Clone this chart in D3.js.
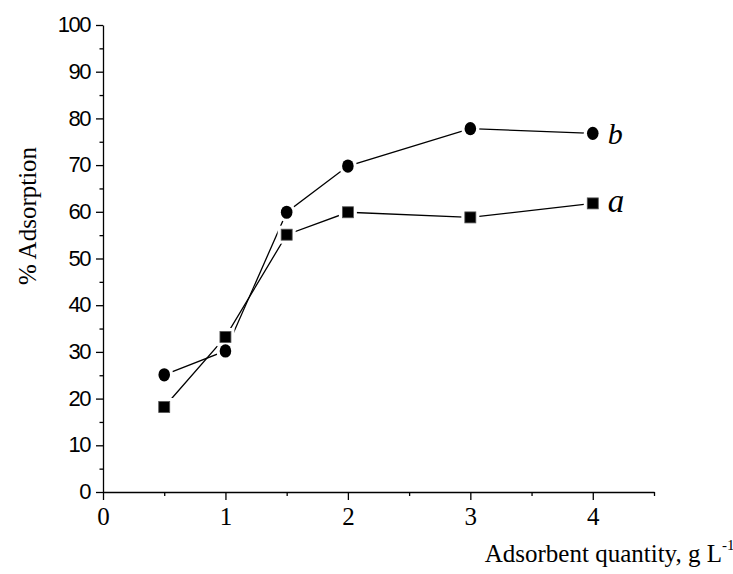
<!DOCTYPE html>
<html>
<head>
<meta charset="utf-8">
<script src="https://cdn.jsdelivr.net/npm/d3@7"></script>
<style>
  body { margin: 0; background: #fff; }
  svg { display: block; }
</style>
</head>
<body>
<svg id="chart" width="733" height="574"></svg>
<script>
// adsorbent dose (g/L) and % adsorption for the two curves
const doses = [0.5, 1, 1.5, 2, 3, 4];
const seriesA = [18.2, 33.2, 55.1, 59.9, 58.8, 61.8];
const seriesB = [25.1, 30.2, 59.9, 69.8, 77.8, 76.8];
const xMajor = [0, 1, 2, 3, 4];
const xMinor = [0.5, 1.5, 2.5, 3.5, 4.5];
const yMajor = [0, 10, 20, 30, 40, 50, 60, 70, 80, 90, 100];
const yMinor = [5, 15, 25, 35, 45, 55, 65, 75, 85, 95];

const svg = d3.select('#chart');

const x = d3.scaleLinear().domain([0, 4.5]).range([103, 654]);
const y = d3.scaleLinear().domain([0, 100]).range([492, 25]);

// minor ticks first, then the major axis on top
svg.append('g')
  .attr('transform', `translate(0,${y(0)})`)
  .call(d3.axisBottom(x).tickValues(xMinor).tickSize(4).tickSizeOuter(0).tickFormat(''))
  .call(g => g.select('.domain').remove());
svg.append('g')
  .attr('transform', `translate(${x(0)},0)`)
  .call(d3.axisLeft(y).tickValues(yMinor).tickSize(3.5).tickSizeOuter(0).tickFormat(''))
  .call(g => g.select('.domain').remove());

const xAxis = svg.append('g')
  .attr('transform', `translate(0,${y(0)})`)
  .call(d3.axisBottom(x).tickValues(xMajor).tickSize(8).tickSizeOuter(0).tickFormat(d3.format('d')));
xAxis.selectAll('text')
  .attr('y', 33).attr('dy', null)
  .attr('font-family', '"Liberation Serif", "Times New Roman", serif')
  .attr('font-size', 25).attr('fill', '#000');

const yAxis = svg.append('g')
  .attr('transform', `translate(${x(0)},0)`)
  .call(d3.axisLeft(y).tickValues(yMajor).tickSize(7).tickSizeOuter(0).tickPadding(6));
yAxis.selectAll('text')
  .attr('font-family', '"Liberation Sans", Arial, sans-serif')
  .attr('font-size', 22).attr('fill', '#000')
  .attr('letter-spacing', -1.5)
  .attr('dy', '0.3em');

svg.selectAll('.domain, .tick line').attr('stroke', '#000').attr('stroke-width', 1.3);

const line = d3.line().x((d, i) => x(doses[i])).y(d => y(d));

[seriesA, seriesB].forEach(s => {
  svg.append('path')
    .datum(s)
    .attr('d', line)
    .attr('fill', 'none')
    .attr('stroke', '#000')
    .attr('stroke-width', 1.3);
});

// white halos so the lines stop short of the markers
const halo = svg.append('g');
seriesB.forEach((v, i) => {
  halo.append('ellipse').attr('cx', x(doses[i])).attr('cy', y(v)).attr('rx', 9).attr('ry', 10).attr('fill', '#fff');
});
seriesA.forEach((v, i) => {
  halo.append('rect').attr('x', x(doses[i]) - 9).attr('y', y(v) - 9).attr('width', 18).attr('height', 18).attr('fill', '#fff');
});

svg.selectAll('ellipse.b')
  .data(seriesB)
  .join('ellipse')
  .attr('class', 'b')
  .attr('cx', (d, i) => x(doses[i]))
  .attr('cy', d => y(d))
  .attr('rx', 5.8)
  .attr('ry', 6.6)
  .attr('fill', '#000');

svg.selectAll('rect.a')
  .data(seriesA)
  .join('rect')
  .attr('class', 'a')
  .attr('x', (d, i) => x(doses[i]) - 5.5)
  .attr('y', d => y(d) - 5.5)
  .attr('width', 11)
  .attr('height', 11)
  .attr('fill', '#000')
  .attr('stroke', '#555')
  .attr('stroke-width', 0.8);

const labFont = '"Liberation Serif", "Times New Roman", serif';
svg.append('text')
  .attr('x', x(4) + 15).attr('y', y(seriesB[5]) + 11)
  .attr('font-family', labFont).attr('font-style', 'italic').attr('font-size', 30)
  .text('b');
svg.append('text')
  .attr('x', x(4) + 15).attr('y', y(seriesA[5]) + 9)
  .attr('font-family', labFont).attr('font-style', 'italic').attr('font-size', 33)
  .text('a');

// axis titles
svg.append('text')
  .attr('x', 722).attr('y', 562)
  .attr('text-anchor', 'end')
  .attr('font-family', labFont).attr('font-size', 25)
  .text('Adsorbent quantity, g L');
svg.append('text')
  .attr('x', 722).attr('y', 550)
  .attr('font-family', labFont).attr('font-size', 15)
  .text('-1');

svg.append('text')
  .attr('transform', 'translate(36,216) rotate(-90)')
  .attr('text-anchor', 'middle')
  .attr('font-family', labFont).attr('font-size', 25)
  .text('% Adsorption');
</script>
</body>
</html>
